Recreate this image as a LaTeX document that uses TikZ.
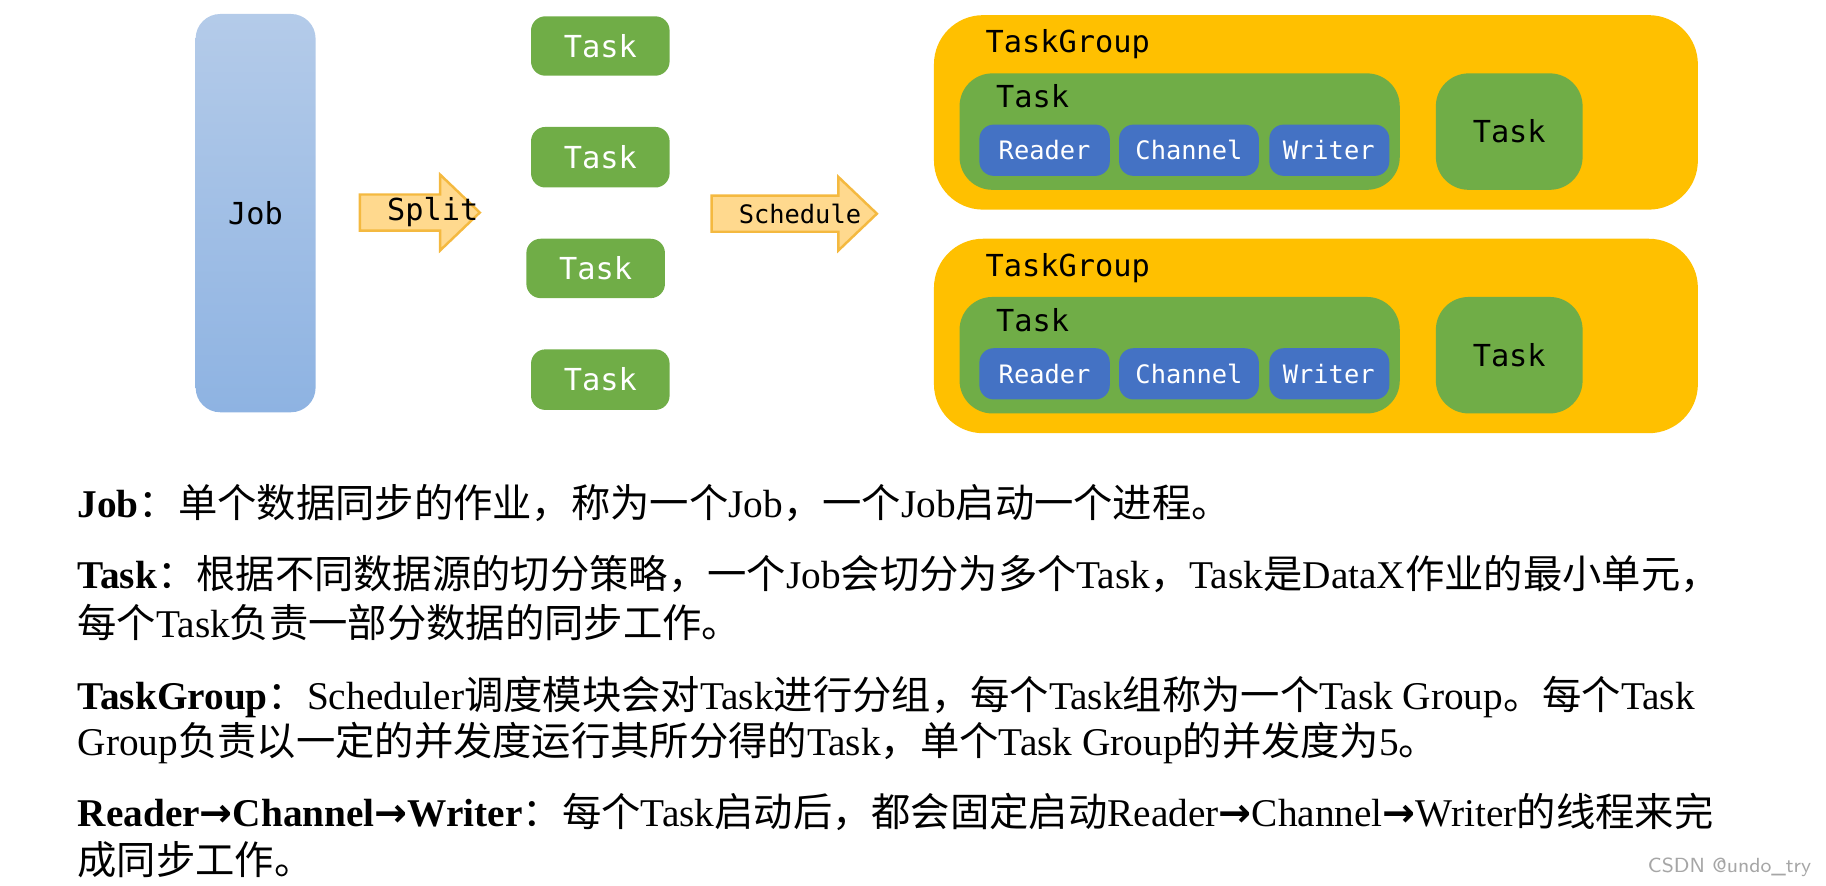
\documentclass[tikz,border=0pt]{standalone}
\usepackage{fontspec}
\setmainfont{Liberation Serif}
\setmonofont{DejaVu Sans Mono}
\newfontfamily\cjk{Noto Sans CJK SC}
\newfontfamily\arr{DejaVu Sans}
\definecolor{grn}{HTML}{70AD47}
\definecolor{blu}{HTML}{4472C4}
\definecolor{gold}{HTML}{FFC000}
\definecolor{lor}{HTML}{FFD98E}
\definecolor{oedge}{HTML}{F4B940}
\definecolor{jobtop}{HTML}{B4CBE9}
\definecolor{jobbot}{HTML}{8EB3E2}
\newcommand{\C}[1]{{\cjk #1}}
\newcommand{\AR}{{\arr\bfseries →}}
\begin{document}
\begin{tikzpicture}[x=0.01cm,y=-0.01cm,
  box/.style={rounded corners=3.5pt,draw=none},
  fatarrow/.style={draw=oedge,fill=lor,line width=0.6pt},
  lbl/.style={font=\ttfamily\fontsize{7.4}{9}\selectfont},
  small/.style={font=\ttfamily\fontsize{6.2}{7}\selectfont},
  txt/.style={anchor=base west,inner sep=0pt,font=\fontsize{9.6}{11}\selectfont}]
\useasboundingbox (0,0) rectangle (1568,760);
% Job
\path[box,rounded corners=6pt,top color=jobtop,bottom color=jobbot] (168,12) rectangle (271,354);
\node[lbl] (job) at (219.5,183) {Job};
% arrows
\path[fatarrow] (309,167) -- (378,167) -- (378,150) -- (412,182.5) -- (378,215) -- (378,198) -- (309,198) -- cycle;
\node[lbl,anchor=west] (split) at (320,182.5) {Split};
\path[fatarrow] (611,168) -- (720,168) -- (720,152) -- (753,183.5) -- (720,215) -- (720,199) -- (611,199) -- cycle;
\node[small,anchor=west] (sched) at (622,183.5) {Schedule};
% tasks
\foreach \x/\a/\b/\n in {456/14/65/t1,456/109/161/t2,452/205/256/t3,456/300/352/t4}{
  \path[box,fill=grn] (\x,\a) rectangle (\x+119,\b);
  \node[lbl,text=white] (\n) at (\x+59.5,{(\a+\b)/2}) {Task};
}
% task groups
\foreach \d/\g in {0/g1,192/g2}{
  \begin{scope}[yshift=-\d*0.01cm]
  \path[rounded corners=12pt,fill=gold] (802,13) rectangle (1458,180);
  \node[lbl,anchor=west] (\g) at (834,38) {TaskGroup};
  \path[rounded corners=8pt,fill=grn] (824,63) rectangle (1202,163);
  \node[lbl,anchor=west] at (843,83) {Task};
  \path[box,fill=blu] (841,107) rectangle (953,151);
  \node[small,text=white] at (897,129) {Reader};
  \path[box,fill=blu] (961,107) rectangle (1081,151);
  \node[small,text=white] at (1021,129) {Channel};
  \path[box,fill=blu] (1090,107) rectangle (1193,151);
  \node[small,text=white] at (1141,129) {Writer};
  \path[rounded corners=8pt,fill=grn] (1233,63) rectangle (1359,163);
  \node[lbl] at (1296,113) {Task};
  \end{scope}
}
% text
\node[txt] (l1) at (66,444) {\textbf{Job}\C{：单个数据同步的作业，称为一个}Job\C{，一个}Job\C{启动一个进程。}};
\node[txt] (l2) at (66,505) {\textbf{Task}\C{：根据不同数据源的切分策略，一个}Job\C{会切分为多个}Task\C{，}Task\C{是}DataX\C{作业的最小单元，}};
\node[txt] (l3) at (66,547) {\C{每个}Task\C{负责一部分数据的同步工作。}};
\node[txt] (l4) at (66,609) {\textbf{TaskGroup}\C{：}Scheduler\C{调度模块会对}Task\C{进行分组，每个}Task\C{组称为一个}Task Group\C{。每个}Task};
\node[txt] (l5) at (66,649) {Group\C{负责以一定的并发度运行其所分得的}Task\C{，单个}Task Group\C{的并发度为}5\C{。}};
\node[txt] (l6) at (66,710) {\textbf{Reader\AR Channel\AR Writer}\C{：每个}Task\C{启动后，都会固定启动}Reader\AR Channel\AR Writer\C{的线程来完}};
\node[txt] (l7) at (66,751) {\C{成同步工作。}};
\node[anchor=base east,inner sep=0pt,text=gray!70,font=\sffamily\fontsize{5}{6}\selectfont] (wm) at (1556,749) {CSDN @undo\_try};
\end{tikzpicture}
\end{document}
